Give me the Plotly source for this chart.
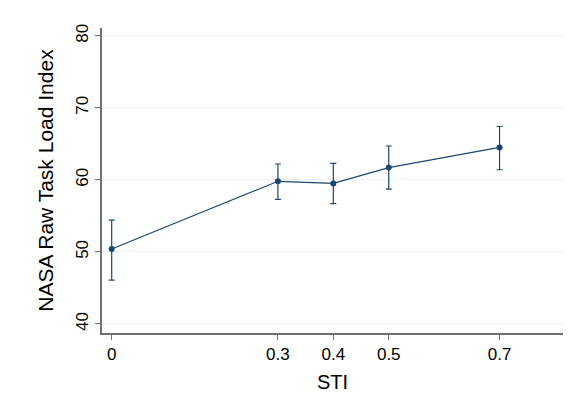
import plotly.graph_objects as go

sti = [0, 0.3, 0.4, 0.5, 0.7]
mean_tlx = [50.4, 59.8, 59.5, 61.7, 64.5]
ci_upper = [54.4, 62.2, 62.3, 64.7, 67.4]
ci_lower = [46.1, 57.3, 56.7, 58.7, 61.4]
x_ticks = [0, 0.3, 0.4, 0.5, 0.7]
x_tick_labels = ["0", "0.3", "0.4", "0.5", "0.7"]
y_ticks = [40, 50, 60, 70, 80]

navy = "#1a476f"
err_plus = [u - m for u, m in zip(ci_upper, mean_tlx)]
err_minus = [m - l for m, l in zip(mean_tlx, ci_lower)]

fig = go.Figure()
fig.add_trace(go.Scatter(
    x=sti, y=mean_tlx, mode="lines+markers",
    line=dict(color=navy, width=1.2),
    marker=dict(color=navy, size=6),
    error_y=dict(type="data", symmetric=False, array=err_plus, arrayminus=err_minus,
                 color=navy, thickness=1.2, width=3),
    showlegend=False,
))

font = "Liberation Sans, Arial, sans-serif"
fig.update_layout(
    width=576, height=419,
    margin=dict(l=102, r=13, t=28, b=86),
    paper_bgcolor="white", plot_bgcolor="white",
    font=dict(family=font, color="#000000"),
    xaxis=dict(
        range=[-0.0175, 0.8145], tickvals=x_ticks, ticktext=x_tick_labels,
        showgrid=False, zeroline=False, automargin=False,
        showline=True, linecolor="#707070", linewidth=1.5,
        ticks="outside", ticklen=5, tickcolor="#707070",
        tickfont=dict(size=17),
        title=dict(text="STI", font=dict(size=20), standoff=12),
    ),
    yaxis=dict(
        range=[38.75, 81.07], tickvals=y_ticks, tickangle=-90,
        showgrid=True, gridcolor="#eaf2f3", gridwidth=1, zeroline=False, automargin=False,
        showline=True, linecolor="#707070", linewidth=1.5,
        ticks="outside", ticklen=5, tickcolor="#707070",
        tickfont=dict(size=17),
        title=dict(text="NASA Raw Task Load Index", font=dict(size=21), standoff=14),
    ),
)

fig.write_html(
    "out.html",
    config={"displayModeBar": False},
    post_script="document.body.style.margin='0';document.body.style.overflow='hidden';",
)
